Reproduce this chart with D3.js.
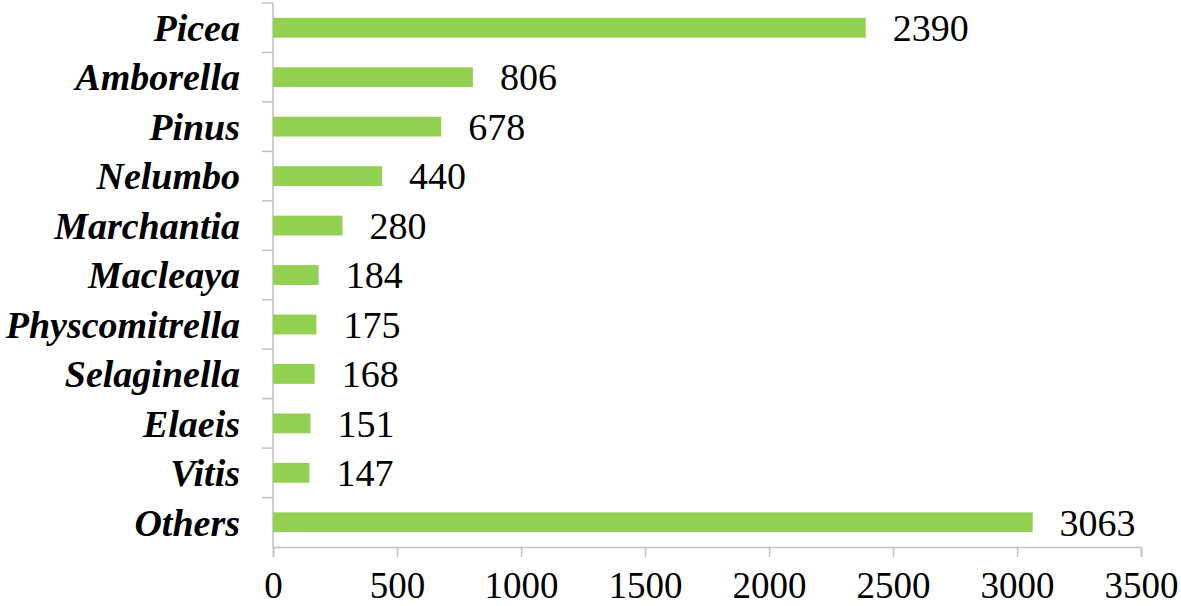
<!DOCTYPE html>
<html>
<head>
<meta charset="utf-8">
<script src="https://d3js.org/d3.v7.min.js"></script>
<style>
  body { margin: 0; background: white; }
  text { font-family: "Liberation Serif", "Times New Roman", serif; fill: black; }
</style>
</head>
<body>
<div id="plot"></div>
<script>
var genera = ['Picea','Amborella','Pinus','Nelumbo','Marchantia','Macleaya','Physcomitrella','Selaginella','Elaeis','Vitis','Others']
var counts = [2390, 806, 678, 440, 280, 184, 175, 168, 151, 147, 3063]
var xTicks = [0, 500, 1000, 1500, 2000, 2500, 3000, 3500]

var W = 1181, H = 606
var margin = {top: 3, left: 273, right: 40, bottom: 59}
var width = W - margin.left - margin.right
var height = H - margin.top - margin.bottom

var svg = d3.select('#plot').append('svg')
    .attr('width', W).attr('height', H)
  .append('g')
    .attr('transform', 'translate(' + margin.left + ',' + margin.top + ')')

var x = d3.scaleLinear().domain([0, 3500]).range([0, 868])
var y = d3.scaleBand().domain(genera).range([0, height]).paddingInner(0.6).paddingOuter(0.3)
var yb = d3.scaleBand().domain(genera).range([0, height])  // band boundaries for ticks

var axisCol = '#BFBFBF'

// y axis line + ticks at band boundaries
svg.append('line').attr('x1', 0).attr('x2', 0).attr('y1', 0).attr('y2', height)
  .attr('stroke', axisCol).attr('stroke-width', 1.5)
genera.forEach(function(g) {
  svg.append('line').attr('x1', -11).attr('x2', 0).attr('y1', yb(g)).attr('y2', yb(g))
    .attr('stroke', axisCol).attr('stroke-width', 1.5)
})

// x axis
var xAxis = svg.append('g').attr('transform', 'translate(0,' + height + ')')
  .call(d3.axisBottom(x).tickValues(xTicks).tickSize(10).tickPadding(15).tickFormat(d3.format('d')))
xAxis.select('.domain').attr('stroke', axisCol).attr('stroke-width', 1.5)
xAxis.selectAll('.tick line').attr('stroke', axisCol).attr('stroke-width', 1.5)
xAxis.selectAll('text').style('font-size', '37px').attr('fill', 'black')

// bars
svg.selectAll('.bar').data(genera).enter().append('rect')
  .attr('class', 'bar')
  .attr('x', 0)
  .attr('y', function(d) { return y(d) })
  .attr('width', function(d, i) { return x(counts[i]) })
  .attr('height', y.bandwidth())
  .attr('fill', '#92D050')

// value labels
svg.selectAll('.val').data(genera).enter().append('text')
  .attr('x', function(d, i) { return x(counts[i]) + 27 })
  .attr('y', function(d) { return y(d) + y.bandwidth() / 2 })
  .attr('dy', '0.35em')
  .style('font-size', '38px')
  .text(function(d, i) { return counts[i] })

// category labels
svg.selectAll('.cat').data(genera).enter().append('text')
  .attr('x', -33)
  .attr('y', function(d) { return y(d) + y.bandwidth() / 2 })
  .attr('dy', '0.35em')
  .attr('text-anchor', 'end')
  .style('font-size', '38px').style('font-weight', 'bold').style('font-style', 'italic')
  .text(function(d) { return d })
</script>
</body>
</html>
